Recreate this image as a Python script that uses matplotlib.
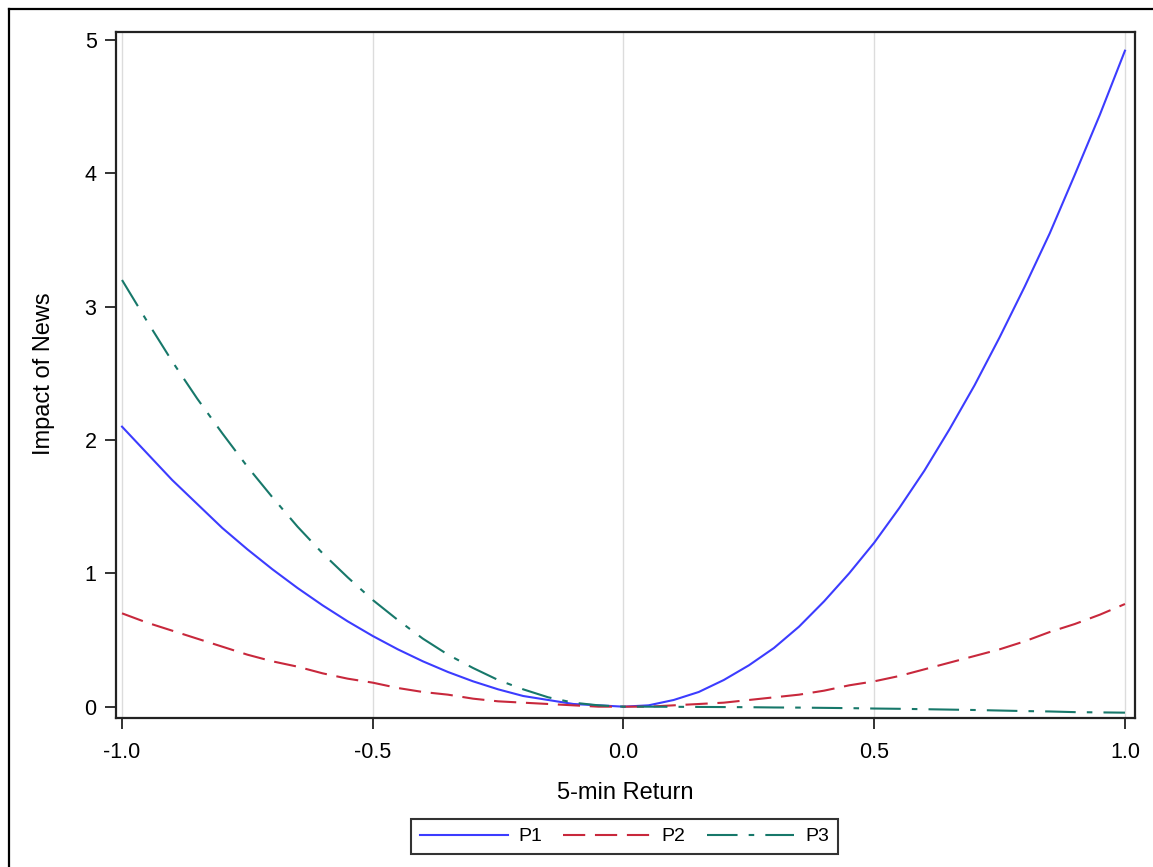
import matplotlib
matplotlib.use("Agg")
import matplotlib.pyplot as plt
from matplotlib.lines import Line2D

plt.rcParams['font.family'] = ['Liberation Sans', 'DejaVu Sans']
plt.rcParams['lines.scale_dashes'] = False

# ---- data ----
x_ret = [-1.00, -0.95, -0.90, -0.85, -0.80, -0.75, -0.70, -0.65, -0.60, -0.55,
         -0.50, -0.45, -0.40, -0.35, -0.30, -0.25, -0.20, -0.15, -0.10, -0.05,
         0.00, 0.05, 0.10, 0.15, 0.20, 0.25, 0.30, 0.35, 0.40, 0.45,
         0.50, 0.55, 0.60, 0.65, 0.70, 0.75, 0.80, 0.85, 0.90, 0.95, 1.00]

p1 = [2.10, 1.90, 1.70, 1.52, 1.34, 1.18, 1.03, 0.89, 0.76, 0.64,
      0.53, 0.43, 0.34, 0.26, 0.19, 0.13, 0.08, 0.05, 0.02, 0.01,
      0.00, 0.01, 0.05, 0.11, 0.20, 0.31, 0.44, 0.60, 0.79, 1.00,
      1.23, 1.49, 1.77, 2.08, 2.41, 2.77, 3.15, 3.55, 3.99, 4.44, 4.92]

p2 = [0.70, 0.63, 0.57, 0.51, 0.45, 0.39, 0.34, 0.30, 0.25, 0.21,
      0.18, 0.14, 0.11, 0.09, 0.06, 0.04, 0.03, 0.02, 0.01, 0.00,
      0.00, 0.00, 0.01, 0.02, 0.03, 0.05, 0.07, 0.09, 0.12, 0.16,
      0.19, 0.23, 0.28, 0.33, 0.38, 0.43, 0.49, 0.56, 0.62, 0.69, 0.77]

p3 = [3.20, 2.89, 2.59, 2.31, 2.05, 1.80, 1.57, 1.35, 1.15, 0.97,
      0.80, 0.65, 0.51, 0.39, 0.29, 0.20, 0.13, 0.07, 0.03, 0.01,
      0.000, 0.000, -0.001, -0.002, -0.003, -0.004, -0.006, -0.007, -0.009, -0.011,
      -0.014, -0.016, -0.019, -0.022, -0.025, -0.029, -0.033, -0.036, -0.041, -0.043, -0.045]

series_names = ['P1', 'P2', 'P3']
x_ticks = [-1.0, -0.5, 0.0, 0.5, 1.0]
x_tick_labels = ['-1.0', '-0.5', '0.0', '0.5', '1.0']
y_ticks = [0, 1, 2, 3, 4, 5]
y_tick_labels = ['0', '1', '2', '3', '4', '5']

W, H = 1153, 867
fig = plt.figure(figsize=(W / 100, H / 100), dpi=100)
ax = fig.add_axes([116 / W, 1 - 718 / H, (1135 - 116) / W, (718 - 32) / H])

for xv in x_ticks:
    ax.axvline(xv, color='#dcdcdc', lw=1.0, zorder=0)

ax.plot(x_ret, p1, color='#3c3cff', lw=1.5, label=series_names[0])
ax.plot(x_ret, p2, color='#c8283c', lw=1.5, dashes=(16, 7), label=series_names[1])
ax.plot(x_ret, p3, color='#17786a', lw=1.5, dashes=(22, 8, 4, 8), label=series_names[2])

ax.set_xlim(-1.012, 1.020)
ax.set_ylim(-0.085, 5.06)
ax.set_xticks(x_ticks)
ax.set_xticklabels(x_tick_labels)
ax.set_yticks(y_ticks)
ax.set_yticklabels(y_tick_labels)
ax.tick_params(axis='both', length=8, width=1.3, labelsize=15.5, color='#222222')
ax.tick_params(axis='x', pad=9)
ax.tick_params(axis='y', pad=6)
for sp in ax.spines.values():
    sp.set_linewidth(1.6)
    sp.set_color('#222222')

fig.text(625 / W, 1 - 793 / H, '5-min Return', ha='center', va='center', fontsize=17)
fig.text(44 / W, 1 - 374 / H, 'Impact of News', ha='center', va='center',
         rotation=90, fontsize=17)

leg = fig.legend(loc='center', bbox_to_anchor=(624.5 / W, 1 - 836.5 / H), ncol=3,
                 frameon=True, fancybox=False, edgecolor='black', fontsize=14,
                 handlelength=4.5, columnspacing=1.1, handletextpad=0.55,
                 borderpad=0.45, borderaxespad=0)
leg.get_frame().set_linewidth(1.5)

# outer frame (top and left edges visible)
fig.add_artist(Line2D([9 / W, 1.0], [1 - 9 / H, 1 - 9 / H], color='black', lw=1.6,
                      transform=fig.transFigure))
fig.add_artist(Line2D([9 / W, 9 / W], [1 - 9 / H, 0.0], color='black', lw=1.6,
                      transform=fig.transFigure))

fig.savefig('out.png', dpi=100)
